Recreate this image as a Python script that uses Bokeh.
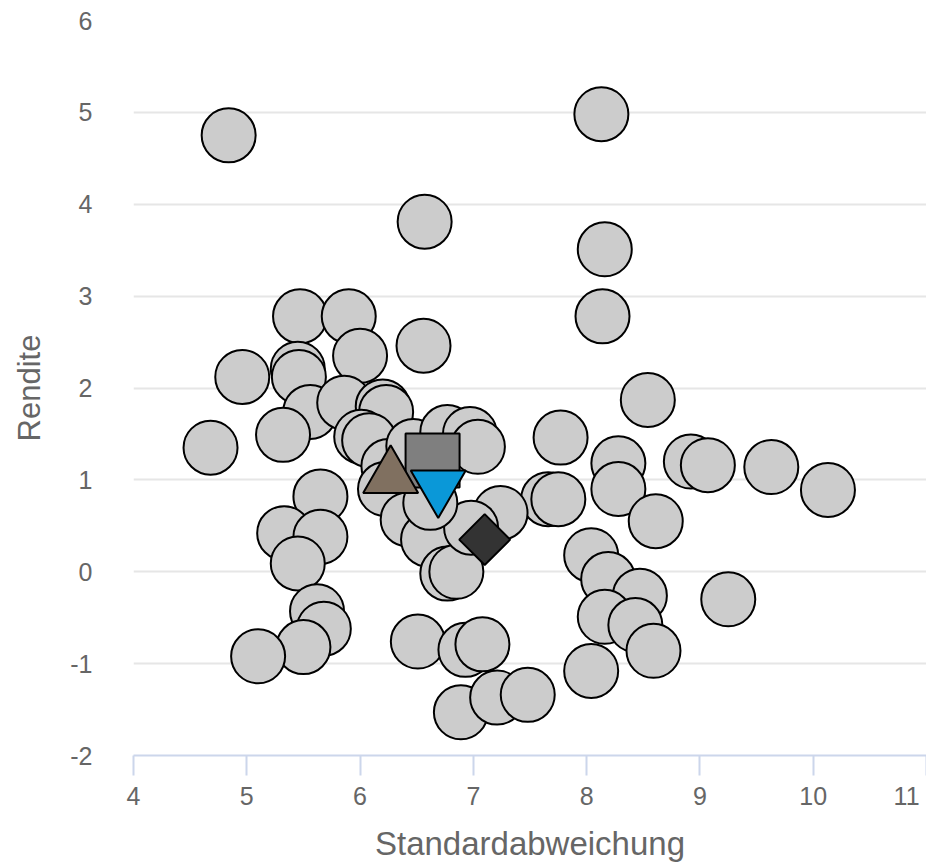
import math
from bokeh.plotting import figure
from bokeh.models import Range1d, FixedTicker
from bokeh.embed import file_html
from bokeh.resources import INLINE

# ---- data (Standardabweichung, Rendite) ----
circle_x = [4.84, 8.13, 6.57, 8.16, 8.14, 5.47, 5.90, 6.56, 6.00, 4.96,
            5.45, 5.46, 5.56, 5.32, 4.68, 5.86, 6.20, 6.23, 6.01, 6.08,
            6.25, 6.22, 6.47, 6.77, 6.97, 7.04, 7.77, 8.54, 8.28, 8.28,
            8.92, 9.07, 9.63, 10.13, 8.61, 7.66, 7.75, 7.24, 5.65, 5.33,
            5.65, 5.45, 5.62, 5.68, 5.50, 5.10, 6.51, 6.42, 6.60, 6.77,
            6.85, 6.98, 6.93, 7.08, 6.89, 7.21, 7.48, 8.04, 8.19, 8.47,
            8.16, 8.43, 8.59, 8.04, 9.25, 6.62]
circle_y = [4.75, 4.98, 3.81, 3.51, 2.78, 2.78, 2.78, 2.46, 2.35, 2.12,
            2.21, 2.12, 1.74, 1.49, 1.35, 1.84, 1.80, 1.74, 1.47, 1.43,
            1.15, 0.90, 1.37, 1.52, 1.50, 1.36, 1.46, 1.87, 1.18, 0.90,
            1.20, 1.16, 1.14, 0.89, 0.55, 0.79, 0.79, 0.64, 0.82, 0.42,
            0.38, 0.09, -0.43, -0.62, -0.82, -0.92, -0.76, 0.57, 0.35, -0.02,
            0.00, 0.48, -0.85, -0.79, -1.53, -1.37, -1.34, 0.18, -0.08, -0.26,
            -0.49, -0.58, -0.86, -1.08, -0.30, 0.75]

square_x = [6.64]
square_y = [1.21]
triangle_x = [6.27]
triangle_y = [1.03]
inv_triangle_x = [6.69]
inv_triangle_y = [0.93]
diamond_x = [7.10]
diamond_y = [0.35]

x_ticks = [4, 5, 6, 7, 8, 9, 10, 11]
y_ticks = [-2, -1, 0, 1, 2, 3, 4, 5, 6]
y_tick_labels = {t: str(t) for t in y_ticks}   # plain hyphen for negatives

FONT = "Liberation Sans"
TXT = "#666666"

p = figure(width=926, height=864,
           x_range=Range1d(4, 11), y_range=Range1d(-2, 6),
           output_backend="svg", toolbar_location=None,
           min_border_left=133, min_border_right=0,
           min_border_top=20, min_border_bottom=109)
p.outline_line_color = None
p.background_fill_color = "white"
p.border_fill_color = "white"

p.scatter(circle_x, circle_y, marker="circle", size=54,
          fill_color="#cccccc", line_color="black", line_width=2)
p.scatter(square_x, square_y, marker="square", size=54,
          fill_color="#7f7f7f", line_color="black", line_width=2)
p.scatter(triangle_x, triangle_y, marker="triangle", size=55,
          fill_color="#807060", line_color="black", line_width=2)
p.scatter(inv_triangle_x, inv_triangle_y, marker="inverted_triangle", size=55,
          fill_color="#0a98d8", line_color="black", line_width=2)
p.scatter(diamond_x, diamond_y, marker="square", size=36, angle=math.pi / 4,
          fill_color="#333333", line_color="black", line_width=2)

# grids
p.xgrid.grid_line_color = None
p.ygrid.grid_line_color = "#e6e6e6"
p.ygrid.grid_line_width = 2
p.ygrid.ticker = FixedTicker(ticks=y_ticks)

# x axis
xa = p.xaxis[0]
xa.ticker = FixedTicker(ticks=x_ticks)
xa.axis_line_color = "#ccd6eb"
xa.axis_line_width = 2
xa.major_tick_line_color = "#ccd6eb"
xa.major_tick_line_width = 2
xa.major_tick_out = 20
xa.major_tick_in = 0
xa.minor_tick_line_color = None
xa.major_label_standoff = 6
xa.major_label_text_font = FONT
xa.major_label_text_font_size = "25px"
xa.major_label_text_color = TXT
xa.major_label_overrides = {x_ticks[-1]: str(x_ticks[-1]) + "\u00a0"}
xa.axis_label = "Standardabweichung"
xa.axis_label_text_font = FONT
xa.axis_label_text_font_size = "33px"
xa.axis_label_text_font_style = "normal"
xa.axis_label_text_color = TXT
xa.axis_label_standoff = 12

# y axis
ya = p.yaxis[0]
ya.ticker = FixedTicker(ticks=y_ticks)
ya.axis_line_color = None
ya.major_tick_line_color = None
ya.minor_tick_line_color = None
ya.major_tick_out = 0
ya.major_tick_in = 0
ya.major_label_standoff = 41
ya.major_label_text_font = FONT
ya.major_label_text_font_size = "25px"
ya.major_label_text_color = TXT
ya.major_label_overrides = y_tick_labels
ya.axis_label = "Rendite"
ya.axis_label_text_font = FONT
ya.axis_label_text_font_size = "31px"
ya.axis_label_text_font_style = "normal"
ya.axis_label_text_color = TXT
ya.axis_label_standoff = 20

open("out.html", "w").write(file_html(p, INLINE))
